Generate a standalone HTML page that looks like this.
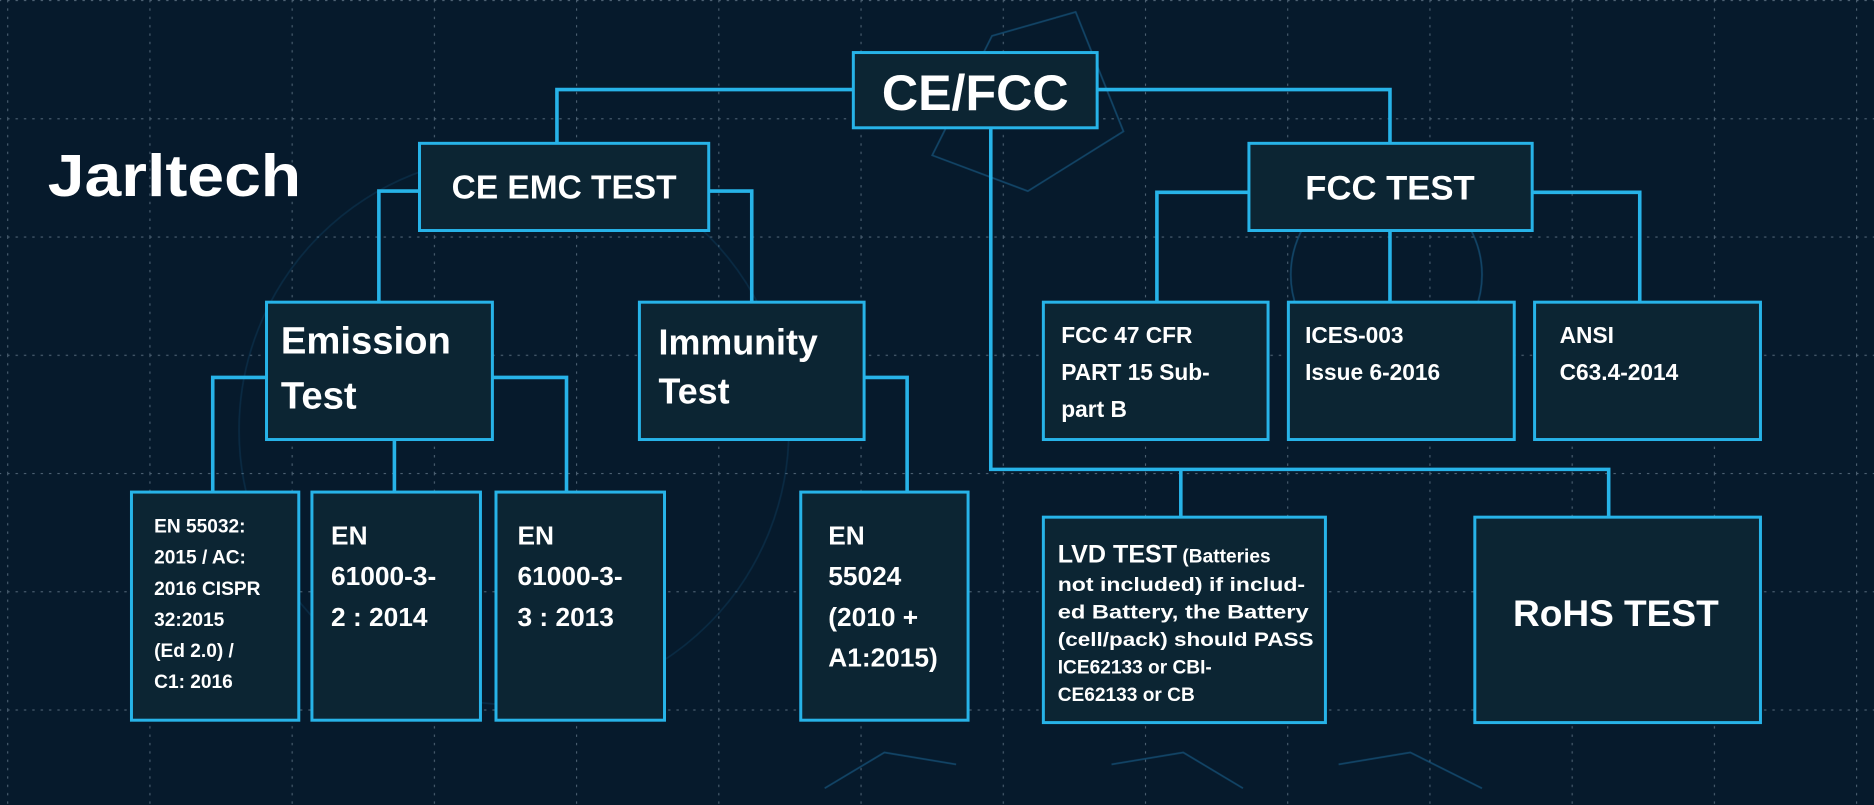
<!DOCTYPE html>
<html><head><meta charset="utf-8"><style>
html,body{margin:0;padding:0;background:#061a2c;width:1874px;height:805px;overflow:hidden}
svg{display:block}
text{font-family:"Liberation Sans",sans-serif;font-weight:bold;fill:#fff}
</style></head><body>
<svg width="1874" height="805" viewBox="0 0 1568 674" preserveAspectRatio="none">
<defs>
<pattern id="g" width="119" height="99" patternUnits="userSpaceOnUse" x="6" y="0">
<path d="M0 0V99M0 0H119" stroke="#7f92a4" stroke-width="1.8" stroke-dasharray="2 5" fill="none" opacity="0.6"/>
</pattern>
</defs>
<rect width="1568" height="674" fill="#061a2c"/>
<rect width="1568" height="674" fill="url(#g)"/>
<g stroke="#1f6fa0" stroke-width="1.5" fill="none" opacity="0.5">
<path d="M780 130 L830 30 L900 10 L940 110 L860 160 Z"/>
<circle cx="1160" cy="230" r="80"/>
<circle cx="430" cy="360" r="230" opacity="0.4"/>
<path d="M690 660 L740 630 L800 640 M930 640 L990 630 L1040 660 M1120 640 L1180 630 L1240 660"/>
</g>
<g stroke="#27b3e8" stroke-width="3" fill="none">
<path d="M714 75H466V120"/>
<path d="M918 75H1163V120"/>
<path d="M829 107V393H1346V433"/>
<path d="M988 393V433"/>
<path d="M351 160H317V253"/>
<path d="M593 160H629V253"/>
<path d="M1045 161H968V253"/>
<path d="M1163 193V253"/>
<path d="M1282 161H1372V253"/>
<path d="M223 316H178V412"/>
<path d="M330 368V412"/>
<path d="M412 316H474V412"/>
<path d="M723 316H759V412"/>
</g>
<g fill="#0c2533" stroke="#27b3e8" stroke-width="2.5">
<rect x="714" y="44" width="204" height="63"/>
<rect x="351" y="120" width="242" height="73"/>
<rect x="1045" y="120" width="237" height="73"/>
<rect x="223" y="253" width="189" height="115"/>
<rect x="535" y="253" width="188" height="115"/>
<rect x="873" y="253" width="188" height="115"/>
<rect x="1078" y="253" width="189" height="115"/>
<rect x="1284" y="253" width="189" height="115"/>
<rect x="110" y="412" width="140" height="191"/>
<rect x="261" y="412" width="141" height="191"/>
<rect x="415" y="412" width="141" height="191"/>
<rect x="670" y="412" width="140" height="191"/>
<rect x="873" y="433" width="236" height="172"/>
<rect x="1234" y="433" width="239" height="172"/>
</g>
<text x="40" y="164" font-size="50" textLength="212" lengthAdjust="spacingAndGlyphs">Jarltech</text>
<text x="816" y="92" font-size="42" text-anchor="middle">CE/FCC</text>
<text x="472" y="166" font-size="28" text-anchor="middle">CE EMC TEST</text>
<text x="1163" y="167" font-size="29" text-anchor="middle">FCC TEST</text>
<text font-size="32"><tspan x="235" y="296">Emission</tspan><tspan x="235" y="342">Test</tspan></text>
<text font-size="30"><tspan x="551" y="297">Immunity</tspan><tspan x="551" y="338">Test</tspan></text>
<text font-size="19"><tspan x="888" y="287">FCC 47 CFR</tspan><tspan x="888" y="318">PART 15 Sub-</tspan><tspan x="888" y="349">part B</tspan></text>
<text font-size="19"><tspan x="1092" y="287">ICES-003</tspan><tspan x="1092" y="318">Issue 6-2016</tspan></text>
<text font-size="19"><tspan x="1305" y="287">ANSI</tspan><tspan x="1305" y="318">C63.4-2014</tspan></text>
<text font-size="16"><tspan x="129" y="446">EN 55032:</tspan><tspan x="129" y="472">2015 / AC:</tspan><tspan x="129" y="498">2016 CISPR</tspan><tspan x="129" y="524">32:2015</tspan><tspan x="129" y="550">(Ed 2.0) /</tspan><tspan x="129" y="576">C1: 2016</tspan></text>
<text font-size="22"><tspan x="277" y="456">EN</tspan><tspan x="277" y="490">61000-3-</tspan><tspan x="277" y="524">2 : 2014</tspan></text>
<text font-size="22"><tspan x="433" y="456">EN</tspan><tspan x="433" y="490">61000-3-</tspan><tspan x="433" y="524">3 : 2013</tspan></text>
<text font-size="22"><tspan x="693" y="456">EN</tspan><tspan x="693" y="490">55024</tspan><tspan x="693" y="524">(2010 +</tspan><tspan x="693" y="558">A1:2015)</tspan></text>
<text font-size="16"><tspan x="885" y="471" font-size="21">LVD TEST</tspan><tspan font-size="16">  (Batteries</tspan><tspan x="885" y="495" textLength="207" lengthAdjust="spacingAndGlyphs">not included) if includ-</tspan><tspan x="885" y="518" textLength="210" lengthAdjust="spacingAndGlyphs">ed Battery, the Battery</tspan><tspan x="885" y="541" textLength="214" lengthAdjust="spacingAndGlyphs">(cell/pack) should PASS</tspan><tspan x="885" y="564">ICE62133 or CBI-</tspan><tspan x="885" y="587">CE62133 or CB</tspan></text>
<text x="1352" y="524" font-size="31" text-anchor="middle">RoHS TEST</text>
</svg>
</body></html>
